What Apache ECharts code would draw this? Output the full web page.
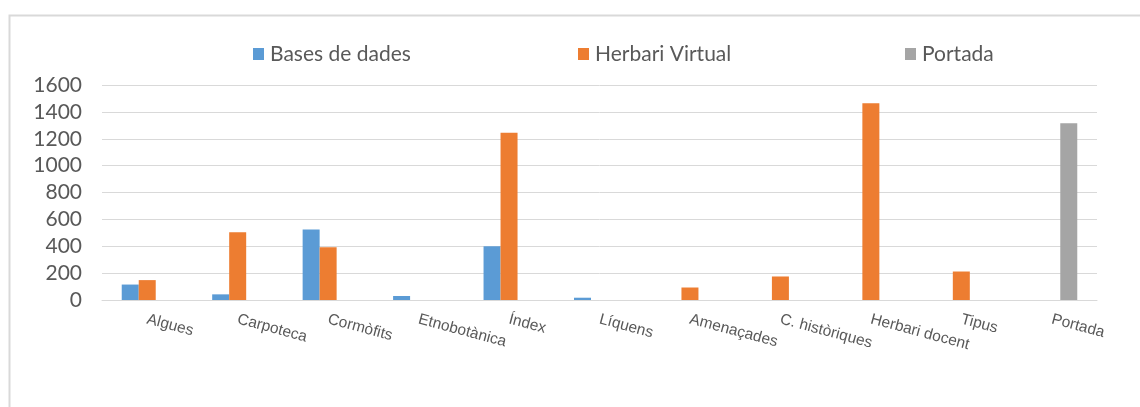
<!DOCTYPE html>
<html>
<head>
<meta charset="utf-8">
<script src="https://cdn.jsdelivr.net/npm/echarts@6/dist/echarts.min.js"></script>
<style>
html,body{margin:0;padding:0;background:#fff;}
#chart{width:1140px;height:407px;}
</style>
</head>
<body>
<div id="chart"></div>
<script>
const categories = ['Algues','Carpoteca','Cormòfits','Etnobotànica','Índex','Líquens','Amenaçades','C. històriques','Herbari docent','Tipus','Portada'];
const seriesNames = ['Bases de dades','Herbari Virtual','Portada'];
const basesDeDades = [115, 42, 525, 30, 400, 17, 0, 0, 0, 0, 0];
const herbariVirtual = [148, 505, 392, 0, 1245, 0, 93, 175, 1465, 212, 0];
const portada = [0, 0, 0, 0, 0, 0, 0, 0, 0, 0, 1315];
const yTicks = [0, 200, 400, 600, 800, 1000, 1200, 1400, 1600];

const colors = ['#5B9BD5', '#ED7D31', '#A5A5A5'];
const legendLefts = [248, 573, 900];
const chart = echarts.init(document.getElementById('chart'));
const dataSets = [basesDeDades, herbariVirtual, portada];
chart.setOption({
  animation: false,
  backgroundColor: '#ffffff',
  color: colors,
  graphic: [{
    type: 'rect',
    left: 7, top: 13,
    shape: {width: 1300, height: 600},
    style: {fill: 'none', stroke: '#d9d9d9', lineWidth: 2},
    silent: true, z: -1
  }],
  legend: seriesNames.map((n, i) => ({
    left: legendLefts[i], top: 37,
    itemWidth: 11, itemHeight: 12,
    icon: 'rect',
    textStyle: {fontFamily: 'Lato', fontSize: 21, color: '#595959', lineHeight: 24, padding: [0,0,0,1]},
    data: [n]
  })),
  grid: {left: 102, right: 43, top: 85, bottom: 107, containLabel: false},
  xAxis: {
    type: 'category',
    data: categories,
    axisLine: {show: true, lineStyle: {color: '#d9d9d9', width: 1}},
    axisTick: {show: false},
    axisLabel: {
      interval: 0, rotate: -15, margin: 19,
      fontFamily: 'Liberation Sans', fontSize: 15.5, color: '#595959'
    }
  },
  yAxis: {
    type: 'value',
    min: yTicks[0], max: yTicks[yTicks.length-1], interval: 200,
    axisLine: {show: false},
    axisTick: {show: false},
    splitLine: {lineStyle: {color: '#d9d9d9', width: 1}},
    axisLabel: {margin: 20, fontFamily: 'Lato', fontSize: 21, color: '#595959', formatter: v => String(v)}
  },
  series: seriesNames.map((n, i) => ({
    name: n,
    type: 'bar',
    data: dataSets[i],
    barWidth: 17,
    barGap: '0%',
    itemStyle: {color: colors[i]}
  }))
});
</script>
</body>
</html>
